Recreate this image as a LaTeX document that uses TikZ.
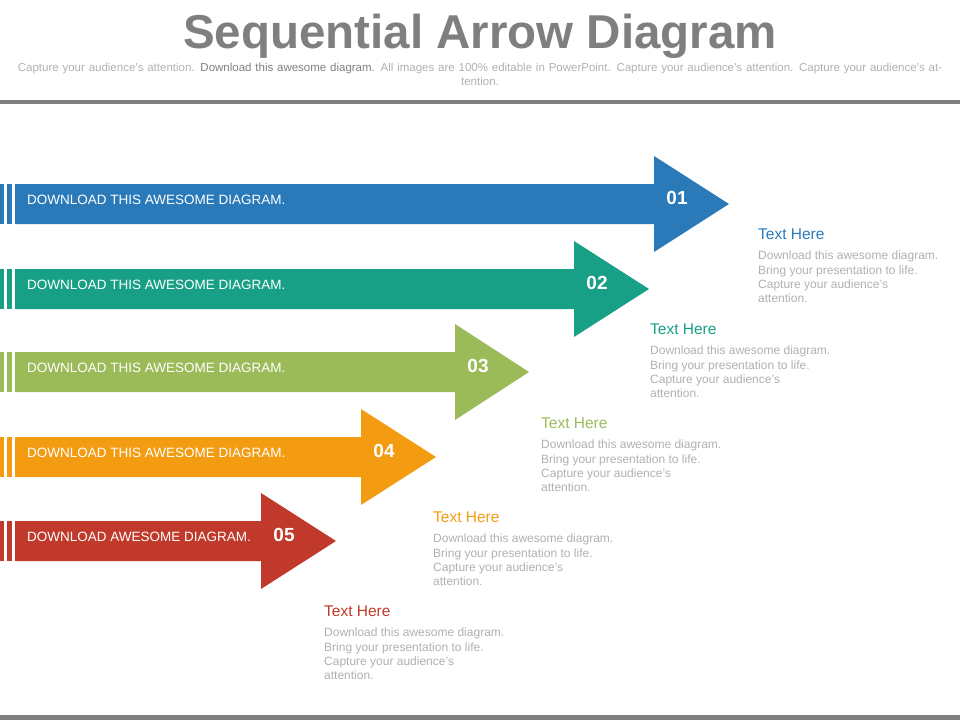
\documentclass[tikz,border=0pt]{standalone}
\usepackage{fontspec}
\setmainfont{Liberation Sans}
\definecolor{c1}{HTML}{2A7AB9}
\definecolor{c2}{HTML}{17A085}
\definecolor{c3}{HTML}{9BBB59}
\definecolor{c4}{HTML}{F39C12}
\definecolor{c5}{HTML}{C0392B}
\definecolor{tgray}{HTML}{7F7F7F}
\definecolor{lgray}{HTML}{B0B0B0}
\tikzset{
 bartext/.style={anchor=west,text=white,font=\fontsize{13.5}{15}\selectfont,inner sep=0pt},
 numtext/.style={text=white,font=\bfseries\fontsize{19}{21}\selectfont},
 headtext/.style={anchor=north west,font=\fontsize{15.5}{17}\selectfont,inner sep=0pt},
 desc/.style={anchor=north west,text=lgray,font=\fontsize{12}{14.2}\selectfont,align=left,inner sep=0pt},
}
\newcommand{\myarrow}[6]{% color, ycenter, headx, tipx, label, num
 \fill[#1] (0,#2-20) rectangle (4,#2+20);
 \fill[#1] (7,#2-20) rectangle (12,#2+20);
 \fill[#1] (15,#2-20) -- (#3,#2-20) -- (#3,#2-48) -- (#4,#2) -- (#3,#2+48) -- (#3,#2+20) -- (15,#2+20) -- cycle;
 \node[bartext] (l#6) at (27,#2-4) {#5};
 \node[numtext] (n#6) at (#3+23,#2-6) {#6};
}
\newcommand{\mytext}[4]{% color,x,y,id
 \node[headtext,text=#1] (h#4) at (#2,#3) {Text Here};
 \node[desc] (d#4) at (#2,#3+22) {Download this awesome diagram.\\Bring your presentation to life.\\Capture your audience's\\attention.};
}
\begin{document}
\begin{tikzpicture}[x=1pt,y=-1pt]
\useasboundingbox (0,0) rectangle (960,720);
\node[text=tgray,font=\bfseries\fontsize{47.5}{52}\selectfont] (title) at (480,36) {Sequential Arrow Diagram};
\node[text=lgray,font=\fontsize{11.5}{14}\selectfont,align=center,text width=940pt] (sub) at (480,74) {Capture your audience's attention. \textcolor{tgray}{Download this awesome diagram.} All images are 100\% editable in PowerPoint. Capture your audience's attention. Capture your audience's attention.};
\fill[tgray] (0,100) rectangle (960,104);
\fill[tgray] (0,715) rectangle (960,720);
\myarrow{c1}{204}{654}{729}{DOWNLOAD THIS AWESOME DIAGRAM.}{01}
\myarrow{c2}{289}{574}{649}{DOWNLOAD THIS AWESOME DIAGRAM.}{02}
\myarrow{c3}{372}{455}{529}{DOWNLOAD THIS AWESOME DIAGRAM.}{03}
\myarrow{c4}{457}{361}{436}{DOWNLOAD THIS AWESOME DIAGRAM.}{04}
\myarrow{c5}{541}{261}{336}{DOWNLOAD AWESOME DIAGRAM.}{05}
\mytext{c1}{758}{229}{1}
\mytext{c2}{650}{324}{2}
\mytext{c3}{541}{418}{3}
\mytext{c4}{433}{512}{4}
\mytext{c5}{324}{606}{5}
\end{tikzpicture}
\end{document}
